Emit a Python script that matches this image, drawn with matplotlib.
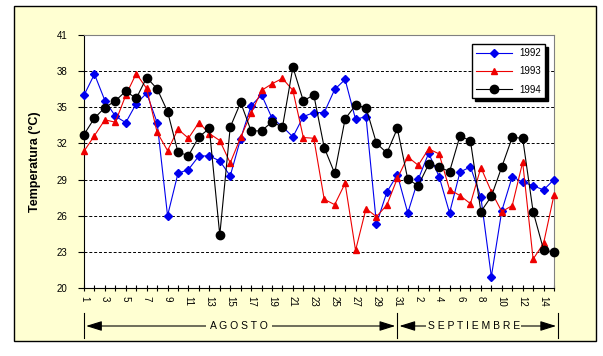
import matplotlib
matplotlib.use('Agg')
import matplotlib.pyplot as plt
import matplotlib.transforms as mtransforms
from matplotlib.patches import Rectangle
import numpy as np

plt.rcParams['font.family'] = ['Liberation Sans', 'DejaVu Sans']

# dias: 1-31 agosto, 1-15 septiembre
dias = list(range(1, 32)) + list(range(1, 16))
t1992 = [36.0, 37.75, 35.56, 34.26, 33.73, 35.3, 36.17, 33.73, 26.0, 29.52,
         29.83, 30.96, 30.96, 30.55, 29.3, 32.4, 35.12, 36.03, 34.1, 33.4,
         32.54, 34.23, 34.56, 34.56, 36.48, 37.31, 34.0, 34.23, 25.31, 27.97,
         29.4, 26.23, 29.02, 31.19, 29.25, 26.23, 29.63, 30.05, 27.53, 20.94,
         26.4, 29.25, 28.78, 28.5, 28.14, 29.0]
t1993 = [31.35, 32.65, 33.96, 33.76, 36.0, 37.8, 36.56, 32.93, 31.4, 33.18,
         32.43, 33.73, 32.82, 32.24, 30.38, 32.5, 34.5, 36.4, 36.95, 37.4,
         36.4, 32.49, 32.43, 27.36, 26.92, 28.69, 23.12, 26.59, 25.92, 26.89,
         29.1, 30.88, 30.19, 31.55, 31.13, 28.17, 27.67, 27.0, 30.0, 28.0,
         26.34, 26.84, 30.44, 22.4, 23.7, 27.72]
t1994 = [32.74, 34.1, 34.98, 35.53, 36.34, 35.73, 37.47, 36.53, 34.65, 31.27,
         30.99, 32.54, 33.24, 24.4, 33.35, 35.4, 33.04, 33.04, 33.79, 33.35,
         38.33, 35.53, 36.03, 31.66, 29.52, 34.04, 35.17, 34.98, 32.02, 31.21,
         33.24, 29.02, 28.5, 30.27, 30.05, 29.66, 32.63, 32.21, 26.34, 27.6,
         30.05, 32.5, 32.43, 26.34, 23.18, 22.96]
yticks = [20, 23, 26, 29, 32, 35, 38, 41]

x = np.arange(len(dias))
fondo = '#FFFFD2'

fig = plt.figure(figsize=(6.03, 3.56), dpi=100)
fig.patches.append(Rectangle((14 / 603, 1 - 341 / 356), 582 / 603, 335 / 356,
                             transform=fig.transFigure, facecolor=fondo,
                             edgecolor='black', lw=1, zorder=-10))
ax = fig.add_axes([84 / 603, 1 - 288 / 356, 470 / 603, 253 / 356])
ax.set_facecolor('white')

for yv in yticks[1:-1]:
    ax.axhline(yv, color='black', lw=0.7, linestyle=(0, (3, 2)), zorder=1)

ax.plot(x, t1992, color='#0000EE', marker='D', ms=4.5, lw=0.8, label='1992', clip_on=False, zorder=3)
ax.plot(x, t1993, color='#EE0000', marker='^', ms=5, lw=0.8, label='1993', clip_on=False, zorder=3)
ax.plot(x, t1994, color='black', marker='o', ms=6, lw=0.8, label='1994', clip_on=False, zorder=3)

ax.set_xlim(0, 45)
ax.set_ylim(20, 41)
ax.set_yticks(yticks)
ax.set_yticklabels([str(v) for v in yticks], fontsize=7)
ax.set_xticks(x)
ax.set_xticklabels([str(d) if i % 2 == 0 else '' for i, d in enumerate(dias)],
                   rotation=270, fontsize=7)
ax.tick_params(axis='x', direction='inout', length=5, pad=3)
ax.tick_params(axis='y', direction='out', length=4, pad=8)

ax.spines['left'].set_color('black')
ax.spines['bottom'].set_color('black')
ax.spines['top'].set_color('#808080')
ax.spines['right'].set_color('#808080')

ax.set_ylabel('Temperatura (°C)', fontsize=9, fontweight='bold')
ax.yaxis.set_label_coords(-0.092, 0.5)

leg = ax.legend(loc='upper right', bbox_to_anchor=(0.981, 0.964), borderaxespad=0,
                fontsize=7, handlelength=3.7, labelspacing=0.85, fancybox=False,
                edgecolor='black', framealpha=1,
                shadow={'facecolor': 'black', 'edgecolor': 'black', 'alpha': 1})
leg.get_frame().set_linewidth(1)

# flechas de meses
trans = mtransforms.blended_transform_factory(ax.transData, fig.transFigure)
yf = 1 - 326 / 356
for xb in [0, 30, 45.4]:
    ax.plot([xb, xb], [1 - 313 / 356, 1 - 338 / 356], transform=trans,
            color='black', lw=0.8, clip_on=False)
flecha = dict(arrowstyle='<|-|>,head_length=0.8,head_width=0.25', color='black',
              lw=0.8, mutation_scale=12, shrinkA=0, shrinkB=0)
ax.annotate('', xy=(0.2, yf), xytext=(29.8, yf), xycoords=trans, textcoords=trans,
            arrowprops=flecha, annotation_clip=False)
ax.annotate('', xy=(30.2, yf), xytext=(45.2, yf), xycoords=trans, textcoords=trans,
            arrowprops=flecha, annotation_clip=False)
ax.text(14.85, yf, 'A G O S T O', transform=trans, ha='center', va='center',
        fontsize=7.5, zorder=5, bbox=dict(facecolor=fondo, edgecolor='none', pad=3))
ax.text(37.3, yf, 'S E P T I E M B R E', transform=trans, ha='center', va='center',
        fontsize=7.5, zorder=5, bbox=dict(facecolor=fondo, edgecolor='none', pad=1))

fig.savefig('out.png', dpi=100)
